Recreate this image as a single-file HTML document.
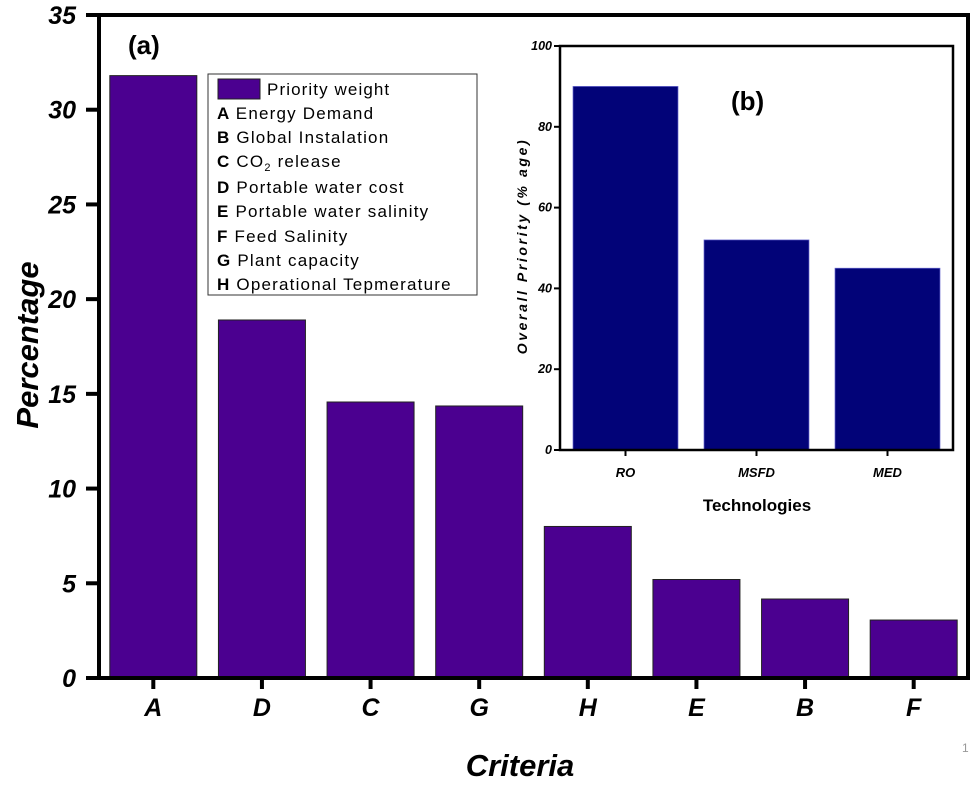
<!DOCTYPE html>
<html><head><meta charset="utf-8"><style>
body{margin:0;background:#fff;}
svg text{font-family:"Liberation Sans",Arial,sans-serif;}
</style></head><body>
<svg id="chart" width="975" height="781" viewBox="0 0 975 781"></svg>
<script>
const categories=["A","D","C","G","H","E","B","F"];
const weights=[31.8,18.9,14.57,14.36,8.0,5.2,4.17,3.06];
const yTicks=[0,5,10,15,20,25,30,35];
const techs=["RO","MSFD","MED"];
const techValues=[90,52,45];
const insetTicks=[0,20,40,60,80,100];
const legendItems=[["A","Energy Demand"],["B","Global Instalation"],["C","CO₂ release"],["D","Portable water cost"],["E","Portable water salinity"],["F","Feed Salinity"],["G","Plant capacity"],["H","Operational Tepmerature"]];

const svg=document.getElementById('chart');
const NS="http://www.w3.org/2000/svg";
function el(tag,attrs,parent){const e=document.createElementNS(NS,tag);for(const k in attrs)e.setAttribute(k,attrs[k]);(parent||svg).appendChild(e);return e;}

const X0=99,X1=968,Y0=678,Y1=15,YMAX=35;
const y=v=>Y0-(v/YMAX)*(Y0-Y1);
const band=(X1-X0)/categories.length;
const xc=i=>X0+band*(i+0.5);

categories.forEach((c,i)=>{
  const b=el('rect',{x:xc(i)-43.5,y:y(weights[i]),width:87,height:Y0-y(weights[i]),fill:'#4b0090',stroke:'#222','stroke-width':1});
  
  
  const t=el('line',{x1:xc(i),x2:xc(i),y1:Y0,y2:Y0+11,stroke:'#000','stroke-width':4});
  
  
  const l=el('text',{x:xc(i),y:716,'text-anchor':'middle','font-size':25,'font-weight':'bold','font-style':'italic'});
  l.textContent=c;
  
  
});
yTicks.forEach(v=>{
  const t=el('line',{x1:86,x2:X0,y1:y(v),y2:y(v),stroke:'#000','stroke-width':4});
  
  
  const l=el('text',{x:76,y:y(v)+9,'text-anchor':'end','font-size':25,'font-weight':'bold','font-style':'italic'});
  l.textContent=v;
  
  
});
const frame=el('path',{d:`M${X0},${Y1} L${X1},${Y1} L${X1},${Y0} L${X0},${Y0} Z`,fill:'none',stroke:'#000','stroke-width':4});


const yt=el('text',{x:0,y:0,transform:'translate(38,345) rotate(-90)','text-anchor':'middle','font-size':31,'font-weight':'bold','font-style':'italic'});
yt.textContent='Percentage';


const xt=el('text',{x:520,y:776,'text-anchor':'middle','font-size':31,'font-weight':'bold','font-style':'italic'});
xt.textContent='Criteria';


const pa=el('text',{x:128,y:54,'font-size':26,'font-weight':'bold'});
pa.textContent='(a)';


const pn=el('text',{x:962,y:752,'font-size':12,fill:'#999'});
pn.textContent='1';



const lg=el('g',{});


el('rect',{x:208,y:74,width:269,height:221,fill:'#fff',stroke:'#333','stroke-width':1},lg);
el('rect',{x:218,y:79,width:42,height:20,fill:'#4b0090',stroke:'#222','stroke-width':1},lg);
const pw=el('text',{x:267,y:95,'font-size':17,'letter-spacing':1.1},lg);
pw.textContent='Priority weight';
legendItems.forEach((it,i)=>{
  const ys=[119,143,167,193,217,242,266,290][i];
  const t=el('text',{x:217,y:ys,'font-size':17,'letter-spacing':1.2},lg);
  
  
  const b=el('tspan',{'font-weight':'bold'},t);b.textContent=it[0]+' ';
  if(it[0]==='C'){
    const s1=el('tspan',{},t);s1.textContent='CO';
    const s2=el('tspan',{'font-size':11,dy:4},t);s2.textContent='2';
    const s3=el('tspan',{dy:-4},t);s3.textContent=' release';
  } else {const s=el('tspan',{},t);s.textContent=it[1];}
});

const IX0=560,IX1=953,IY0=450,IY1=46,IMAX=100;
const iy=v=>IY0-(v/IMAX)*(IY0-IY1);
const ib=(IX1-IX0)/techs.length;
const ixc=i=>IX0+ib*(i+0.5);
const ibg=el('rect',{x:IX0,y:IY1,width:IX1-IX0,height:IY0-IY1,fill:'#fff'});


techs.forEach((c,i)=>{
  const b=el('rect',{x:ixc(i)-52.5,y:iy(techValues[i]),width:105,height:IY0-iy(techValues[i]),fill:'#020378',stroke:'#6a6ad0','stroke-width':0.7});
  
  
  const t=el('line',{x1:ixc(i),x2:ixc(i),y1:IY0,y2:IY0+6,stroke:'#000','stroke-width':2});
  
  
  const l=el('text',{x:ixc(i),y:477,'text-anchor':'middle','font-size':13,'font-weight':'bold','font-style':'italic'});
  l.textContent=c;
  
  
});
insetTicks.forEach(v=>{
  const t=el('line',{x1:554,x2:IX0,y1:iy(v),y2:iy(v),stroke:'#000','stroke-width':2});
  
  
  const l=el('text',{x:552,y:iy(v)+4,'text-anchor':'end','font-size':12.5,'font-weight':'bold','font-style':'italic'});
  l.textContent=v;
  
  
});
const iframe=el('rect',{x:IX0,y:IY1,width:IX1-IX0,height:IY0-IY1,fill:'none',stroke:'#000','stroke-width':2.5});


const iyt=el('text',{x:0,y:0,transform:'translate(527,246) rotate(-90)','text-anchor':'middle','font-size':14,'font-weight':'bold','font-style':'italic','letter-spacing':2.6});
iyt.textContent='Overall Priority (% age)';


const ixt=el('text',{x:757,y:511,'text-anchor':'middle','font-size':17,'font-weight':'bold'});
ixt.textContent='Technologies';


const pb=el('text',{x:731,y:110,'font-size':26,'font-weight':'bold'});
pb.textContent='(b)';


</script>
</body></html>
